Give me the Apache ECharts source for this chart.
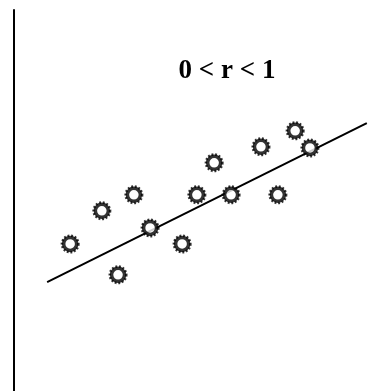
<!DOCTYPE html>
<html>
<head>
<meta charset="utf-8">
<script src="https://cdn.jsdelivr.net/npm/echarts@6/dist/echarts.min.js"></script>
<style>html,body{margin:0;padding:0;background:#fff}#c{width:374px;height:391px}</style>
</head>
<body>
<div id="c"></div>
<script>
// Scatter points (abstract units, x 0..10, y 0..10)
const pointsX = [1.56, 2.44, 3.33, 2.89, 3.78, 4.67, 5.08, 5.56, 6.03, 6.86, 7.33, 7.81, 8.22];
const pointsY = [3.86, 4.73, 5.15, 3.05, 4.28, 3.86, 5.15, 5.99, 5.15, 6.41, 5.15, 6.83, 6.38];
// Regression line end points
const lineX = [0.92, 9.80];
const lineY = [2.86, 7.03];
const titleText = '0 < r < 1';

const pts = pointsX.map((x, i) => [x, pointsY[i]]);
const linePts = lineX.map((x, i) => [x, lineY[i]]);

const chart = echarts.init(document.getElementById('c'), null, {renderer: 'canvas'});
chart.setOption({
  animation: false,
  backgroundColor: '#fff',
  title: {
    text: titleText,
    left: 222,
    top: 53,
    textAlign: 'center',
    textStyle: {fontFamily: '"Liberation Serif", "Times New Roman", serif', fontWeight: 'bold', fontSize: 27, color: '#000'}
  },
  grid: {left: 14, top: 10, width: 360, height: 381},
  xAxis: {type: 'value', min: 0, max: 10, show: false},
  yAxis: {
    type: 'value', min: 0, max: 10,
    axisLine: {show: true, lineStyle: {color: '#000', width: 2}},
    axisTick: {show: false}, axisLabel: {show: false}, splitLine: {show: false}
  },
  series: [
    {
      type: 'line', data: linePts, symbol: 'none', silent: true,
      lineStyle: {color: '#000', width: 2}, z: 1
    },
    {
      type: 'scatter', data: pts, symbol: 'circle', symbolSize: 16.5, silent: true,
      itemStyle: {color: 'rgba(0,0,0,0)', borderColor: '#000', borderWidth: 2.5, borderType: [1.8, 1.8]}, z: 2
    },
    {
      type: 'scatter', data: pts, symbol: 'circle', symbolSize: 13, silent: true,
      itemStyle: {color: '#fff', borderColor: '#000', borderWidth: 3.5}, z: 3
    }
  ]
});
</script>
</body>
</html>
